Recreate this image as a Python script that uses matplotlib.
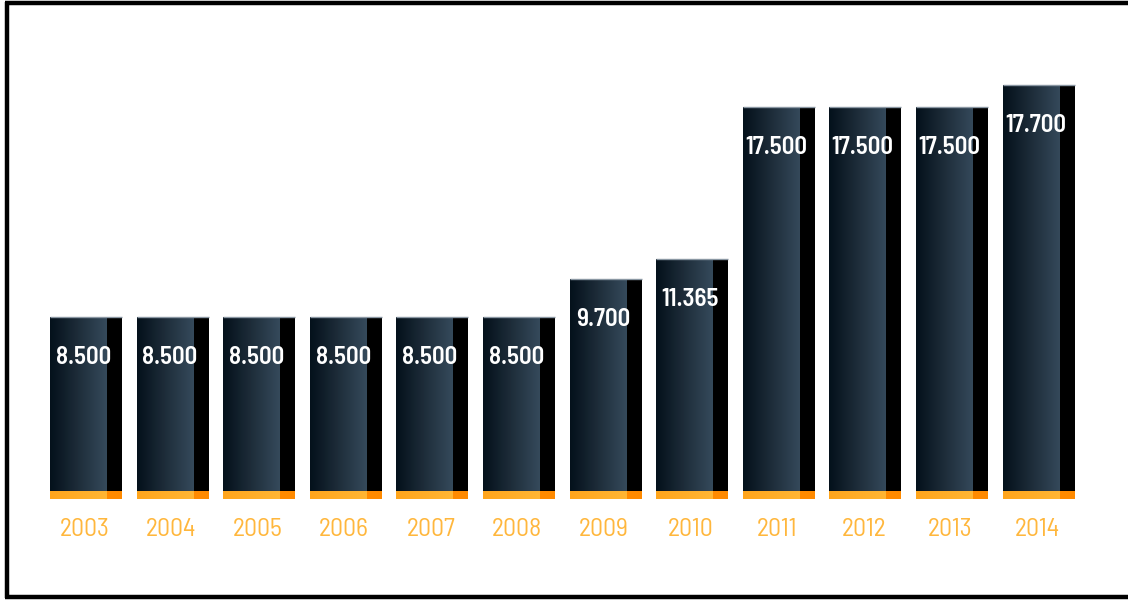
import numpy as np
import matplotlib
matplotlib.use("Agg")
import matplotlib.pyplot as plt
from matplotlib import font_manager
from matplotlib.lines import Line2D

# data
years = ["2003", "2004", "2005", "2006", "2007", "2008",
         "2009", "2010", "2011", "2012", "2013", "2014"]
value_labels = ["8.500", "8.500", "8.500", "8.500", "8.500", "8.500",
                "9.700", "11.365", "17.500", "17.500", "17.500", "17.700"]
# the bars are not drawn to scale in the original, so keep the drawn heights
bar_heights = [182, 182, 182, 182, 182, 182, 220, 240, 392, 392, 392, 414]

# pick a narrow DIN-like face if there is one
installed = {f.name for f in font_manager.fontManager.ttflist}
wanted = ['Barlow Semi Condensed', 'Barlow Condensed', 'Roboto Condensed',
          'Liberation Sans Narrow', 'Open Sans Condensed']
families = [f for f in wanted if f in installed] + ['DejaVu Sans']
plt.rcParams['font.family'] = families

W, H = 1128, 601
fig = plt.figure(figsize=(W / 100, H / 100), dpi=100)
ax = fig.add_axes([0, 0, 1, 1])
ax.set_axis_off()

step = 86.6
first_center = 86
base_px = 499
ax.set_xlim(-first_center / step, (W - first_center) / step)
ax.set_ylim(-(H - base_px), base_px)

bar_w = 72 / step
side_w = 15 / step
foot_h = 8

front_grad = np.linspace(0, 1, 64).reshape(1, -1)
front_cmap = matplotlib.colors.LinearSegmentedColormap.from_list(
    "front", ["#04111b", "#1e2d3a", "#354a5b"])
foot_cmap = matplotlib.colors.LinearSegmentedColormap.from_list(
    "foot", ["#ffa51c", "#ffb634"])

for i, h in enumerate(bar_heights):
    x0 = i - bar_w / 2
    x1 = i + bar_w / 2
    xs = x1 - side_w
    # front face with gradient
    ax.imshow(front_grad, cmap=front_cmap, aspect='auto',
              extent=(x0, xs, foot_h, h), zorder=2, interpolation='bilinear')
    # dark side
    ax.add_patch(plt.Rectangle((xs, foot_h), side_w, h - foot_h - 1,
                               color="#000000", lw=0, zorder=3))
    # thin light top edge
    ax.plot([x0, x1], [h, h], color="#8a97a3", lw=1.0, zorder=4,
            solid_capstyle='butt')
    # orange foot
    ax.imshow(front_grad, cmap=foot_cmap, aspect='auto',
              extent=(x0, xs, 0, foot_h), zorder=2, interpolation='bilinear')
    ax.add_patch(plt.Rectangle((xs, 0), side_w, foot_h,
                               color="#ff8a00", lw=0, zorder=3))
    # value label
    ax.text(i - 0.03, h - 40, value_labels[i], color="white", fontsize=18,
            fontweight='semibold', ha='center', va='center', zorder=5)
    # year label
    ax.text(i - 0.02, -30, years[i], color="#ffb73d", fontsize=18.5,
            ha='center', va='center', zorder=5)

# black frame (no right edge visible in the original)
frame = dict(color="black", lw=3.2, transform=None, solid_capstyle='butt')
fig.add_artist(Line2D([7, 7], [3, H - 2], **frame))
fig.add_artist(Line2D([5, W], [H - 3, H - 3], **frame))
fig.add_artist(Line2D([5, W], [4, 4], **frame))

fig.savefig("out.png", dpi=100, facecolor="white")
